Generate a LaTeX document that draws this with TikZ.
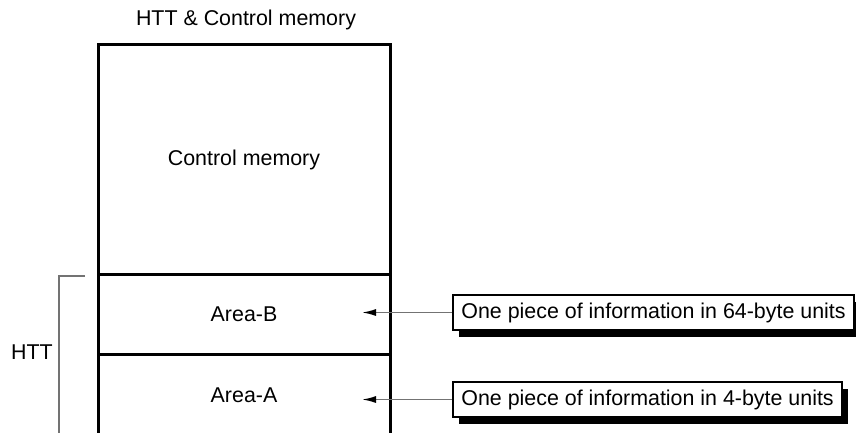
\documentclass[tikz,border=0pt]{standalone}
\usepackage{fontspec}
\setmainfont{Liberation Sans}
\usetikzlibrary{positioning,arrows.meta,shadows}
\definecolor{leadgray}{gray}{0.45}

\begin{document}
\begin{tikzpicture}[x=0.5pt, y=-0.5pt, font=\fontsize{10.7}{12}\selectfont,
        cell/.style ={draw, line width=1.5pt},
        info/.style ={draw, line width=1pt, fill=white, anchor=west, inner xsep=4.2pt,
        minimum height=17.5pt, drop shadow={shadow xshift=3pt, shadow yshift=-3.5pt, opacity=1, fill=black}},
        lead/.style ={leadgray, line width=0.8pt, -{Latex[black, length=7pt, width=3.5pt]}}]
    \useasboundingbox (0,0) rectangle (856,433);

        % memory block, open at the bottom
        \draw[cell] (98,433) -- (98,45) -- (390,45) -- (390,433);
        \draw[cell] (98,274) -- (390,274);
        \draw[cell] (98,354) -- (390,354);

        \node (title) at (246,20) {HTT \& Control memory};
        \node (ctrl) at (244,160) {Control memory};
        \node (areaB) at (244,314) {Area-B};
        \node (areaA) at (244,395) {Area-A};

        % bracket for the HTT part
        \draw[leadgray, line width=0.8pt] (85,276) -- (59,276) -- (59,433);
        \node (htt) at (32,352) {HTT};

        \node[info] (infoB) at (452,312.5) {One piece of information in 64-byte units};
        \node[info] (infoA) at (452,399.5) {One piece of information in 4-byte units};

        \coordinate (tipB) at (362,312.5);
        \coordinate (tipA) at (362,399.5);
        \draw[lead] (infoB) -- (tipB);
        \draw[lead] (infoA) -- (tipA);
    \end{tikzpicture}
\end{document}
